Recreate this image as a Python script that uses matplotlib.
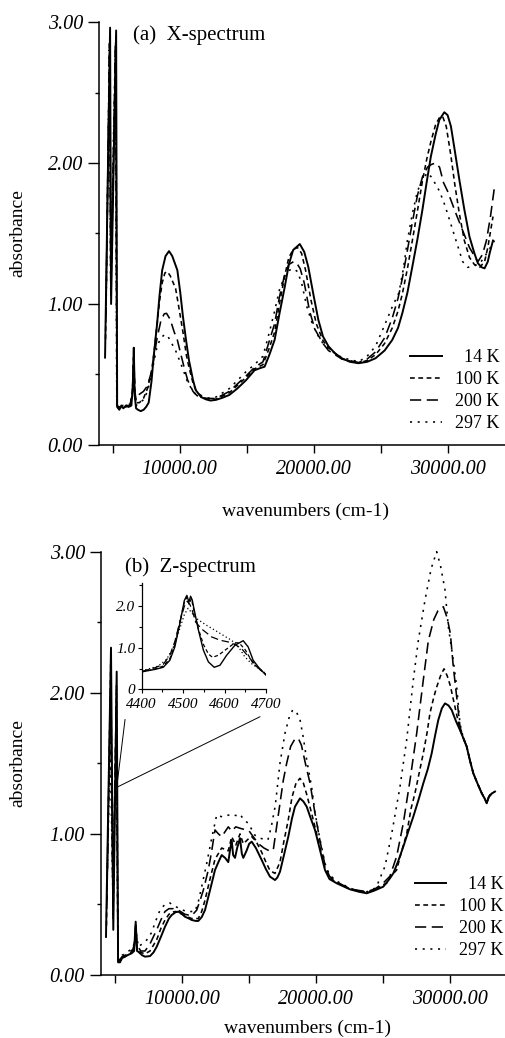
import matplotlib
matplotlib.use("Agg")
import matplotlib.pyplot as plt
from matplotlib.ticker import MultipleLocator, FormatStrFormatter, FuncFormatter
from matplotlib.lines import Line2D

plt.rcParams['font.family'] = ['Liberation Serif', 'DejaVu Serif']

# ---------------- data: (a) X-spectrum ----------------
xa_14 = [4435, 4811, 4886, 5262, 5338, 5500, 5650, 5800, 6000, 6200, 6400, 6500, 6580, 6650, 6750, 6890,
         7100, 7315, 7500, 7690, 7900, 8067, 8320, 8500, 8700, 8950, 9210, 9450, 9830, 10050, 10250, 10500,
         10700, 11000, 11200, 11600, 11955, 12300, 12710, 13200, 13710, 14300, 14960, 15590, 16000, 16340,
         16700, 17090, 17450, 17845, 18150, 18475, 18970, 19300, 19600, 20000, 20355, 20700, 21110, 21600,
         22110, 22700, 23365, 24000, 24620, 25300, 25870, 26300, 26620, 27000, 27370, 27750, 28120, 28450,
         28750, 29100, 29380, 29755, 30000, 30250, 30550, 30880, 31250, 31635, 32000, 32260, 32550, 32760,
         33000, 33140, 33390]
ya_14 = [0.62, 2.96, 1.00, 2.94, 0.27, 0.25, 0.28, 0.26, 0.28, 0.27, 0.28, 0.40, 0.69, 0.35, 0.26, 0.25,
         0.24, 0.25, 0.27, 0.30, 0.45, 0.63, 0.86, 1.06, 1.24, 1.34, 1.375, 1.34, 1.24, 1.08, 0.91, 0.73,
         0.60, 0.46, 0.39, 0.34, 0.324, 0.315, 0.32, 0.335, 0.355, 0.40, 0.46, 0.53, 0.545, 0.555,
         0.64, 0.745, 0.93, 1.12, 1.28, 1.383, 1.425, 1.37, 1.265, 1.06, 0.887, 0.77, 0.70, 0.65,
         0.615, 0.59, 0.58, 0.59, 0.615, 0.67, 0.745, 0.83, 0.934, 1.08, 1.265, 1.46, 1.667, 1.87,
         2.045, 2.20, 2.305, 2.36, 2.34, 2.26, 2.08, 1.88, 1.67, 1.477, 1.36, 1.289, 1.26, 1.253,
         1.30, 1.36, 1.45]

xa_100 = [4470, 4790, 4870, 5240, 5330, 5500, 5700, 6000, 6300, 6480, 6580, 6660, 6750, 7000, 7300, 7600,
          7900, 8100, 8320, 8500, 8700, 8900, 9075, 9300, 9700, 9900, 10250, 10500, 10700, 11000, 11300,
          11955, 12710, 13710, 14960, 15590, 16220, 16700, 17090, 17450, 17845, 18150, 18500, 18800, 19100,
          19400, 19800, 20200, 20700, 21110, 22110, 23365, 24000, 24620, 25300, 25870, 26300, 26620, 27000,
          27370, 27750, 28120, 28450, 28750, 29100, 29380, 29630, 29900, 30250, 30550, 30880, 31250, 31635,
          32000, 32400, 32760, 33000, 33390]
ya_100 = [0.75, 2.90, 1.05, 2.90, 0.27, 0.26, 0.27, 0.27, 0.28, 0.38, 0.65, 0.36, 0.30, 0.30, 0.33, 0.40,
          0.52, 0.66, 0.86, 1.02, 1.15, 1.22, 1.23, 1.20, 1.11, 1.00, 0.80, 0.64, 0.55, 0.44, 0.37,
          0.33, 0.325, 0.37, 0.48, 0.54, 0.57, 0.69, 0.80, 1.00, 1.20, 1.33, 1.39, 1.40, 1.36,
          1.24, 1.03, 0.86, 0.74, 0.69, 0.61, 0.58, 0.60, 0.64, 0.72, 0.83, 0.95, 1.07, 1.25,
          1.45, 1.66, 1.87, 2.03, 2.15, 2.27, 2.32, 2.33, 2.26, 2.05, 1.84, 1.64, 1.45, 1.33,
          1.28, 1.26, 1.30, 1.40, 1.62]

xa_200 = [4500, 4770, 4860, 5220, 5320, 5500, 5700, 6000, 6300, 6480, 6570, 6660, 6750, 7000, 7300, 7600,
          7900, 8100, 8320, 8600, 8850, 9022, 9300, 9600, 9830, 10100, 10325, 10600, 11000, 11300, 11955,
          12710, 13710, 14960, 15590, 16220, 16700, 17090, 17450, 17845, 18150, 18500, 18725, 19000, 19300,
          19700, 20100, 20700, 21110, 22110, 23365, 24000, 24620, 25300, 25870, 26300, 26620, 27000, 27370,
          27750, 28120, 28500, 28800, 29100, 29400, 29700, 30000, 30630, 31130, 31635, 32260, 32600, 32900,
          33200, 33500]
ya_200 = [0.90, 2.85, 1.10, 2.85, 0.28, 0.27, 0.27, 0.28, 0.28, 0.37, 0.62, 0.38, 0.32, 0.36, 0.38, 0.42,
          0.52, 0.63, 0.76, 0.88, 0.93, 0.934, 0.89, 0.80, 0.745, 0.64, 0.555, 0.46, 0.38, 0.35, 0.33,
          0.33, 0.38, 0.49, 0.55, 0.59, 0.74, 0.86, 1.05, 1.21, 1.28, 1.30, 1.293, 1.25, 1.15,
          0.95, 0.82, 0.72, 0.67, 0.61, 0.585, 0.61, 0.66, 0.76, 0.90, 1.04, 1.18, 1.38, 1.58,
          1.77, 1.90, 1.97, 1.99, 2.00, 1.97, 1.86, 1.80, 1.64, 1.52, 1.40, 1.30, 1.35, 1.45,
          1.62, 1.83]

xa_297 = [4520, 4750, 4850, 5200, 5310, 5500, 5700, 6000, 6300, 6480, 6560, 6660, 6750, 7000, 7300, 7600,
          7900, 8100, 8320, 8600, 8850, 9075, 9300, 9700, 10200, 10580, 11000, 11300, 11955, 12710, 13710,
          14960, 15590, 16220, 16700, 17090, 17450, 17845, 18200, 18500, 18800, 19100, 19500, 19900, 20300,
          20700, 21110, 22110, 23365, 24000, 24620, 25300, 25870, 26370, 26700, 27000, 27370, 27750, 28120,
          28480, 28800, 29100, 29400, 29800, 30200, 30630, 31130, 31500, 32000, 32500, 33000, 33500]
ya_297 = [1.00, 2.80, 1.20, 2.80, 0.28, 0.27, 0.28, 0.28, 0.29, 0.36, 0.58, 0.34, 0.28, 0.30, 0.32, 0.38,
          0.50, 0.60, 0.70, 0.76, 0.78, 0.78, 0.74, 0.67, 0.55, 0.45, 0.38, 0.35, 0.33, 0.34, 0.40,
          0.52, 0.57, 0.63, 0.80, 0.95, 1.10, 1.20, 1.24, 1.25, 1.23, 1.15, 0.98, 0.86, 0.78,
          0.72, 0.68, 0.62, 0.59, 0.63, 0.70, 0.85, 0.98, 1.08, 1.25, 1.45, 1.64, 1.80, 1.88,
          1.93, 1.90, 1.85, 1.80, 1.70, 1.58, 1.45, 1.30, 1.26, 1.27, 1.30, 1.37, 1.45]

# ---------------- data: (b) Z-spectrum ----------------
xb_14 = [4297, 4671, 4843, 5097, 5200, 5344, 5500, 5718, 5900, 6218, 6400, 6517, 6620, 6712, 7000, 7212,
         7586, 7850, 8087, 8400, 8707, 9000, 9208, 9500, 9701, 10000, 10202, 10500, 10702, 11000, 11196,
         11450, 11697, 12070, 12444, 12700, 12945, 13200, 13438, 13560, 13692, 13800, 13940, 14100, 14312,
         14450, 14560, 14800, 15000, 15187, 15500, 15934, 16250, 16555, 16928, 17100, 17302, 17600, 17922,
         18200, 18423, 18797, 19050, 19298, 19600, 19918, 20292, 20665, 21000, 21540, 22000, 22534, 23200,
         23782, 24400, 25023, 25400, 25770, 26150, 26517, 26900, 27265, 27650, 28012, 28350, 28640, 28900,
         29133, 29400, 29634, 29900, 30134, 30450, 30755, 31000, 31256, 31500, 31749, 32050, 32377, 32600,
         32751, 32900, 32998, 33200, 33371]
yb_14 = [0.27, 2.32, 0.32, 2.15, 0.09, 0.09, 0.12, 0.13, 0.14, 0.154, 0.17, 0.378, 0.17, 0.165, 0.14, 0.13,
         0.134, 0.16, 0.20, 0.27, 0.342, 0.40, 0.425, 0.445, 0.449, 0.43, 0.413, 0.40, 0.39, 0.383, 0.383,
         0.41, 0.46, 0.60, 0.744, 0.80, 0.85, 0.83, 0.80, 0.88, 0.957, 0.85, 0.83, 0.90, 0.97,
         0.86, 0.83, 0.88, 0.93, 0.945, 0.90, 0.815, 0.75, 0.697, 0.673, 0.69, 0.732, 0.85, 0.98,
         1.11, 1.193, 1.252, 1.23, 1.193, 1.11, 1.028, 0.886, 0.744, 0.68, 0.65, 0.63, 0.607, 0.59,
         0.579, 0.60, 0.626, 0.67, 0.72, 0.81, 0.909, 1.02, 1.122, 1.24, 1.358, 1.46, 1.571, 1.70,
         1.807, 1.89, 1.925, 1.91, 1.878, 1.80, 1.736, 1.68, 1.618, 1.52, 1.43, 1.36, 1.288, 1.25,
         1.217, 1.26, 1.276, 1.29, 1.30]

xb_100 = [4330, 4650, 4830, 5080, 5200, 5344, 5500, 5718, 6000, 6300, 6420, 6517, 6620, 6900, 7212, 7586,
          8087, 8400, 8707, 9000, 9208, 9500, 9701, 10202, 10702, 11196, 11450, 11697, 12070, 12444, 12945,
          13438, 13692, 14000, 14312, 14560, 15000, 15187, 15500, 15934, 16250, 16555, 16928, 17302, 17600,
          17922, 18200, 18500, 18797, 19050, 19298, 19600, 19918, 20292, 20665, 21000, 21540, 22534, 23782,
          24400, 25023, 25270, 25600, 26020, 26400, 26770, 27100, 27390, 27700, 28012, 28300, 28510, 28800,
          29010, 29300, 29560, 29800, 30034, 30380, 30755, 31000, 31256, 31500, 31749, 32050, 32377, 32600,
          32751, 32900, 33100, 33300]
yb_100 = [0.35, 2.20, 0.40, 2.05, 0.10, 0.10, 0.12, 0.13, 0.15, 0.17, 0.20, 0.36, 0.19, 0.16, 0.15, 0.17,
          0.25, 0.33, 0.39, 0.43, 0.445, 0.45, 0.445, 0.42, 0.40, 0.40, 0.45, 0.53, 0.68, 0.82, 0.90,
          0.88, 0.98, 0.92, 1.00, 0.93, 0.97, 0.98, 0.95, 0.87, 0.80, 0.74, 0.72, 0.80, 0.95,
          1.10, 1.26, 1.36, 1.394, 1.36, 1.28, 1.17, 1.05, 0.90, 0.76, 0.69, 0.655, 0.61, 0.585,
          0.60, 0.64, 0.65, 0.70, 0.744, 0.88, 1.00, 1.18, 1.288, 1.43, 1.571, 1.72, 1.855, 1.97,
          2.04, 2.12, 2.17, 2.12, 2.05, 1.90, 1.74, 1.68, 1.62, 1.52, 1.43, 1.36, 1.29, 1.25,
          1.22, 1.26, 1.28, 1.30]

xb_200 = [4360, 4630, 4820, 5060, 5200, 5344, 5500, 5718, 6000, 6300, 6420, 6517, 6620, 6900, 7212, 7586,
          7833, 8087, 8400, 8707, 9000, 9327, 9701, 10202, 10702, 11077, 11300, 11570, 11943, 12200, 12444,
          12700, 12945, 13438, 13692, 14000, 14312, 14686, 15000, 15300, 15700, 16100, 16500, 16800, 17050,
          17302, 17550, 17800, 18100, 18400, 18670, 18900, 19200, 19545, 19918, 20292, 20665, 21000, 21540,
          22534, 23782, 24400, 25000, 25520, 26020, 26517, 27020, 27520, 28012, 28390, 28800, 29100, 29510,
          29800, 30034, 30255, 30510, 30755, 31000, 31256, 31500, 31749, 32050, 32377, 32600, 32751, 32950,
          33150]
yb_200 = [0.50, 2.00, 0.50, 1.90, 0.11, 0.11, 0.13, 0.14, 0.16, 0.18, 0.22, 0.35, 0.21, 0.17, 0.17, 0.22,
          0.27, 0.32, 0.39, 0.45, 0.47, 0.47, 0.46, 0.43, 0.42, 0.46, 0.52, 0.60, 0.744, 0.88, 1.028,
          1.00, 0.98, 1.05, 1.02, 1.05, 1.04, 1.03, 1.02, 0.98, 0.93, 0.90, 0.88, 0.886, 1.05,
          1.217, 1.38, 1.50, 1.62, 1.67, 1.677, 1.63, 1.50, 1.36, 1.146, 0.95, 0.78, 0.70, 0.66,
          0.61, 0.59, 0.61, 0.65, 0.70, 0.84, 1.075, 1.38, 1.713, 2.09, 2.37, 2.52, 2.58, 2.61,
          2.53, 2.42, 2.185, 1.97, 1.76, 1.68, 1.62, 1.52, 1.43, 1.36, 1.29, 1.25, 1.22, 1.27,
          1.29]

xb_297 = [4390, 4610, 4810, 5050, 5200, 5344, 5500, 5718, 6000, 6300, 6420, 6517, 6712, 7000, 7340, 7700,
          8000, 8333, 8700, 9080, 9400, 9800, 10300, 10950, 11200, 11450, 11823, 12197, 12571, 13000, 13692,
          14000, 14312, 14600, 14935, 15434, 15800, 16181, 16400, 16650, 16950, 17300, 17675, 18000, 18250,
          18500, 18797, 19050, 19298, 19670, 19918, 20292, 20665, 21000, 21540, 22534, 23400, 23782, 24200,
          24530, 25150, 25650, 26270, 26770, 27265, 27640, 28140, 28600, 29013, 29300, 29634, 29880, 30255,
          30510, 30755, 31000, 31256, 31500, 31749, 32050, 32377, 32600, 32751, 32950, 33150]
yb_297 = [0.70, 1.60, 0.60, 1.70, 0.12, 0.12, 0.14, 0.15, 0.17, 0.19, 0.23, 0.33, 0.20, 0.22, 0.248, 0.30,
          0.38, 0.46, 0.50, 0.51, 0.49, 0.47, 0.45, 0.45, 0.52, 0.626, 0.79, 0.969, 1.134, 1.12, 1.14,
          1.13, 1.14, 1.10, 1.075, 0.99, 0.97, 0.96, 0.957, 1.05, 1.20, 1.50, 1.713, 1.83, 1.878,
          1.87, 1.81, 1.68, 1.524, 1.33, 1.15, 0.96, 0.79, 0.71, 0.665, 0.615, 0.59, 0.59, 0.60,
          0.63, 0.77, 1.00, 1.334, 1.666, 2.09, 2.37, 2.657, 2.88, 3.00, 2.90, 2.73, 2.47, 2.23,
          2.04, 1.78, 1.68, 1.62, 1.52, 1.43, 1.36, 1.29, 1.25, 1.22, 1.27, 1.29]

# ---------------- data: inset (4400-4700 cm-1) ----------------
xi_14 = [4400, 4432, 4452, 4468, 4480, 4492, 4503, 4509, 4514, 4518, 4522, 4527, 4537, 4549, 4561, 4575,
         4589, 4605, 4625, 4645, 4657, 4669, 4682, 4700]
yi_14 = [0.42, 0.48, 0.53, 0.70, 1.02, 1.58, 2.14, 2.26, 2.10, 2.24, 2.15, 1.90, 1.42, 0.94, 0.66, 0.53,
         0.58, 0.82, 1.06, 1.17, 1.02, 0.70, 0.53, 0.34]
xi_100 = [4400, 4432, 4452, 4468, 4480, 4492, 4503, 4509, 4514, 4520, 4527, 4537, 4549, 4561, 4571, 4585,
          4605, 4625, 4635, 4650, 4669, 4685, 4700]
yi_100 = [0.42, 0.49, 0.56, 0.74, 1.08, 1.62, 2.10, 2.22, 2.05, 2.18, 1.85, 1.45, 1.08, 0.85, 0.77, 0.82,
          0.97, 1.12, 1.12, 0.95, 0.62, 0.48, 0.36]
xi_200 = [4400, 4432, 4452, 4468, 4480, 4492, 4503, 4510, 4516, 4522, 4530, 4545, 4569, 4590, 4609, 4625,
          4641, 4665, 4685, 4700]
yi_200 = [0.43, 0.52, 0.60, 0.82, 1.15, 1.62, 2.00, 2.12, 2.05, 1.90, 1.62, 1.45, 1.26, 1.18, 1.14, 1.08,
          0.98, 0.70, 0.48, 0.36]
xi_297 = [4400, 4420, 4440, 4460, 4475, 4490, 4503, 4512, 4520, 4533, 4555, 4577, 4600, 4617, 4635, 4649,
          4665, 4682, 4700]
yi_297 = [0.45, 0.50, 0.56, 0.72, 0.98, 1.40, 1.80, 1.95, 1.85, 1.70, 1.55, 1.42, 1.28, 1.18, 1.00, 0.78,
          0.62, 0.50, 0.38]

labels = ['14 K', '100 K', '200 K', '297 K']
# zoom indicator: from the spike in panel (b) to below the inset
zoom_from = (5100, 1.33)
zoom_to = [(5720, 1.81), (15800, 1.83)]

styles = [dict(ls='-', lw=1.4),
          dict(ls=(0, (3.0, 2.2)), lw=1.15),
          dict(ls=(0, (7, 3.5)), lw=1.15),
          dict(ls=(0, (1.3, 3.5)), lw=1.15)]

fig = plt.figure(figsize=(5.06, 10.38), dpi=100)
axA = fig.add_axes([0.1957, 0.5713, 0.8043, 0.4075])
axB = fig.add_axes([0.1996, 0.0607, 0.8004, 0.4078])

TICK_FS = 14.5
LAB_FS = 14


def style_axis(ax, xlim):
    ax.set_xlim(*xlim)
    ax.set_ylim(0, 3.0)
    for s in ('top', 'right'):
        ax.spines[s].set_visible(False)
    for s in ('left', 'bottom'):
        ax.spines[s].set_linewidth(1.1)
    ax.xaxis.set_major_locator(MultipleLocator(10000))
    ax.xaxis.set_minor_locator(MultipleLocator(5000))
    ax.yaxis.set_major_locator(MultipleLocator(1.0))
    ax.yaxis.set_minor_locator(MultipleLocator(0.5))
    ax.xaxis.set_major_formatter(FormatStrFormatter('%.2f'))
    ax.yaxis.set_major_formatter(FormatStrFormatter('%.2f'))
    ax.tick_params(axis='y', which='major', direction='out', length=8, width=1, pad=3.5)
    ax.tick_params(axis='y', which='minor', direction='out', length=3, width=1)
    ax.tick_params(axis='x', which='major', direction='out', length=6, width=1, pad=5)
    ax.tick_params(axis='x', which='minor', direction='out', length=6, width=1)
    for t in ax.get_xticklabels() + ax.get_yticklabels():
        t.set_fontstyle('italic')
        t.set_fontsize(TICK_FS)
    ax.set_ylabel('absorbance', fontsize=LAB_FS)
    ax.set_xlabel('wavenumbers (cm-1)', fontsize=LAB_FS)
    ax.yaxis.label.set_va('center')
    ax.xaxis.label.set_va('center')


def draw_legend(ax, anchor):
    handles = [Line2D([], [], color='black', **st) for st in styles]
    padded = ['  ' + labels[0]] + labels[1:]
    leg = ax.legend(handles, padded, loc='center', bbox_to_anchor=anchor, frameon=False,
                    fontsize=13, handlelength=1.75, handletextpad=0.7, labelspacing=0.28,
                    borderpad=0, borderaxespad=0)
    return leg


seriesA = [(xa_14, ya_14), (xa_100, ya_100), (xa_200, ya_200), (xa_297, ya_297)]
for (x, y), st in zip(seriesA, styles):
    axA.plot(x, y, color='black', clip_on=False, **st)
style_axis(axA, (3985, 34360))
axA.yaxis.set_label_coords(-0.2, 0.5)
axA.xaxis.set_label_coords(0.507, -0.158)
axA.text(0.084, 0.969, '(a)  X-spectrum', transform=axA.transAxes, fontsize=15, ha='left', va='center')
draw_legend(axA, (0.874, 0.128))

seriesB = [(xb_14, yb_14), (xb_100, yb_100), (xb_200, yb_200), (xb_297, yb_297)]
for (x, y), st in zip(seriesB, styles):
    axB.plot(x, y, color='black', clip_on=False, **st)
style_axis(axB, (3924, 34194))
axB.yaxis.set_label_coords(-0.205, 0.5)
axB.xaxis.set_label_coords(0.511, -0.125)
axB.text(0.0585, 0.964, '(b)  Z-spectrum', transform=axB.transAxes, fontsize=15, ha='left', va='center')
draw_legend(axB, (0.884, 0.136))

for end in zoom_to:
    axB.plot([zoom_from[0], end[0]], [zoom_from[1], end[1]], color='black', lw=0.7)

# inset
axI = fig.add_axes([0.280, 0.3359, 0.2457, 0.1021])
seriesI = [(xi_14, yi_14), (xi_100, yi_100), (xi_200, yi_200), (xi_297, yi_297)]
inset_styles = [dict(ls='-', lw=1.0), dict(ls=(0, (3, 2)), lw=0.9),
                dict(ls=(0, (6, 3)), lw=0.9), dict(ls=(0, (1, 2)), lw=0.9)]
for (x, y), st in zip(seriesI, inset_styles):
    axI.plot(x, y, color='black', **st)
axI.set_xlim(4400, 4700)
axI.set_ylim(0, 2.55)
axI.patch.set_alpha(0)
for s in ('top', 'right'):
    axI.spines[s].set_visible(False)
for s in ('left', 'bottom'):
    axI.spines[s].set_linewidth(0.9)
axI.xaxis.set_major_locator(MultipleLocator(100))
axI.xaxis.set_minor_locator(MultipleLocator(50))
axI.yaxis.set_major_locator(MultipleLocator(1.0))
axI.yaxis.set_minor_locator(MultipleLocator(0.5))
axI.yaxis.set_major_formatter(FuncFormatter(lambda v, p: '0' if abs(v) < 1e-9 else '%.1f' % v))
axI.xaxis.set_major_formatter(FuncFormatter(lambda v, p: '%d' % v))
axI.tick_params(axis='y', which='major', direction='out', length=3, width=0.8, pad=1.5)
axI.tick_params(axis='x', which='major', direction='out', length=3, width=0.8, pad=3.5)
axI.tick_params(which='minor', direction='out', length=2, width=0.8)
for t in axI.get_xticklabels() + axI.get_yticklabels():
    t.set_fontstyle('italic')
    t.set_fontsize(11)

fig.savefig('out.png', dpi=100)
